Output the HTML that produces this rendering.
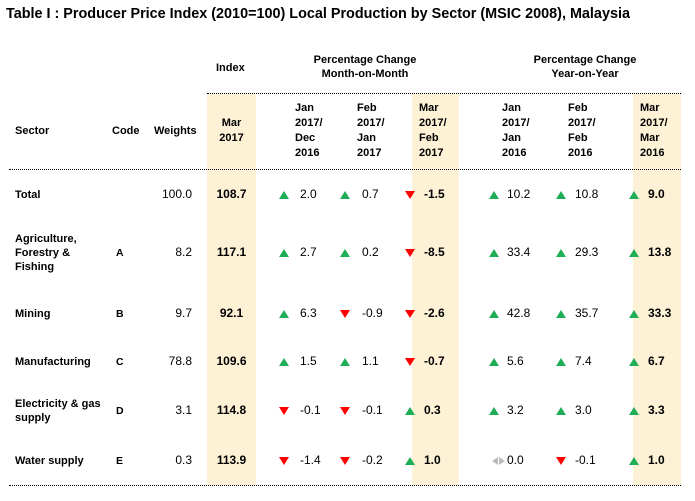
<!DOCTYPE html>
<html><head><meta charset="utf-8"><style>
body{margin:0;width:695px;height:501px;background:#fff;font-family:"Liberation Sans",sans-serif;color:#000;position:relative;overflow:hidden}
.a{position:absolute;white-space:nowrap;font-size:11px;line-height:14px}
.b{font-weight:bold}
.sh{position:absolute;background:#fdf2d6;top:94px;height:391px}
.dl{position:absolute;border-top:1px dotted #000;height:0}
.up{position:absolute;width:0;height:0;border-left:5px solid transparent;border-right:5px solid transparent;border-bottom:8px solid #1fae55}
.dn{position:absolute;width:0;height:0;border-left:5px solid transparent;border-right:5px solid transparent;border-top:8px solid #f00}
.c{text-align:center}
</style></head><body>
<div class="a b" style="left:6px;top:5px;font-size:14.4px;line-height:18px">Table I : Producer Price Index (2010=100) Local Production by Sector (MSIC 2008), Malaysia</div>
<div class="sh" style="left:207px;width:49px"></div>
<div class="sh" style="left:412px;width:47px"></div>
<div class="sh" style="left:633px;width:48px"></div>
<div class="dl" style="left:207px;width:474px;top:93px"></div>
<div class="dl" style="left:9px;width:672px;top:169px"></div>
<div class="dl" style="left:9px;width:672px;top:485px"></div>
<div class="a b" style="left:216px;top:61px">Index</div>
<div class="a b c" style="left:300px;top:53px;width:130px">Percentage Change<br>Month-on-Month</div>
<div class="a b c" style="left:520px;top:53px;width:130px">Percentage Change<br>Year-on-Year</div>
<div class="a b" style="left:15px;top:124px">Sector</div>
<div class="a b" style="left:112px;top:124px">Code</div>
<div class="a b" style="left:154px;top:124px">Weights</div>
<div class="a b c" style="left:207px;top:116px;width:49px;line-height:15px">Mar<br>2017</div>
<div class="a b" style="left:295px;top:101px;line-height:15px">Jan<br>2017/<br>Dec<br>2016</div>
<div class="a b" style="left:357px;top:101px;line-height:15px">Feb<br>2017/<br>Jan<br>2017</div>
<div class="a b" style="left:419px;top:101px;line-height:15px">Mar<br>2017/<br>Feb<br>2017</div>
<div class="a b" style="left:502px;top:101px;line-height:15px">Jan<br>2017/<br>Jan<br>2016</div>
<div class="a b" style="left:568px;top:101px;line-height:15px">Feb<br>2017/<br>Feb<br>2016</div>
<div class="a b" style="left:640px;top:101px;line-height:15px">Mar<br>2017/<br>Mar<br>2016</div>

<div id="rows"></div>
<script>
var rows=[
[195,"Total","",  "100.0","108.7",["2.0","0.7","-1.5"],["10.2","10.8","9.0"]],
[253,"Agriculture,<br>Forestry &amp;<br>Fishing","A","8.2","117.1",["2.7","0.2","-8.5"],["33.4","29.3","13.8"]],
[314,"Mining","B","9.7","92.1",["6.3","-0.9","-2.6"],["42.8","35.7","33.3"]],
[362,"Manufacturing","C","78.8","109.6",["1.5","1.1","-0.7"],["5.6","7.4","6.7"]],
[411,"Electricity &amp; gas<br>supply","D","3.1","114.8",["-0.1","-0.1","0.3"],["3.2","3.0","3.3"]],
[461,"Water supply","E","0.3","113.9",["-1.4","-0.2","1.0"],["0.0","-0.1","1.0"]]];
var ax=[284,345,410,494,561,634], vx=[300,362,424,507,575,648];
var h="";
rows.forEach(function(r){
 var y=r[0];
 var n=(r[1].match(/<br>/g)||[]).length+1;
 h+='<div class="a b" style="left:15px;top:'+(y-7*n)+'px">'+r[1]+'</div>';
 h+='<div class="a b" style="left:116px;top:'+(y-7)+'px;font-size:10.5px">'+r[2]+'</div>';
 h+='<div class="a" style="left:150px;width:42px;text-align:right;top:'+(y-8)+'px;font-size:12px">'+r[3]+'</div>';
 h+='<div class="a b c" style="left:207px;width:49px;top:'+(y-8)+'px;font-size:12px">'+r[4]+'</div>';
 var v=r[5].concat(r[6]);
 v.forEach(function(s,i){
  var bold=(i==2||i==5)?' b':'';
  if(s=="0.0"){h+='<div style="position:absolute;left:'+(ax[i]-2)+'px;top:'+(y-4)+'px;width:0;height:0;border-top:4px solid transparent;border-bottom:4px solid transparent;border-right:6px solid #bbb"></div><div style="position:absolute;left:'+(ax[i]+5)+'px;top:'+(y-4)+'px;width:0;height:0;border-top:4px solid transparent;border-bottom:4px solid transparent;border-left:6px solid #bbb"></div>';}
  else h+='<div class="'+(s[0]=="-"?"dn":"up")+'" style="left:'+(ax[i]-5)+'px;top:'+(y-4)+'px"></div>';
  h+='<div class="a'+bold+'" style="left:'+vx[i]+'px;top:'+(y-8)+'px;font-size:12px">'+s+'</div>';
 });
});
document.getElementById("rows").innerHTML=h;
</script>
</body></html>
